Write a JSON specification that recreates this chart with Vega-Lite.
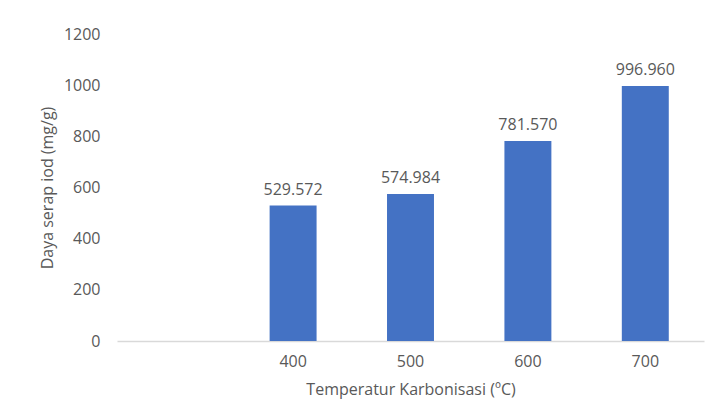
{
  "$schema": "https://vega.github.io/schema/vega-lite/v6.json",
  "autosize": {"type": "none"},
  "padding": {"left": 117, "top": 34, "right": 9, "bottom": 78},
  "width": 587,
  "height": 307,
  "background": "white",
  "config": {
    "view": {"stroke": null},
    "font": "Open Sans",
    "axis": {"labelFont": "Open Sans", "titleFont": "Open Sans", "labelColor": "#595959", "titleColor": "#595959", "labelFontSize": 16, "titleFontSize": 16, "titleFontWeight": "normal"}
  },
  "data": {
    "values": [
      {"Suhu": "400", "Daya": 529.572},
      {"Suhu": "500", "Daya": 574.984},
      {"Suhu": "600", "Daya": 781.570},
      {"Suhu": "700", "Daya": 996.960}
    ]
  },
  "encoding": {
    "x": {
      "field": "Suhu", "type": "nominal",
      "scale": {"domain": [" ", "400", "500", "600", "700"], "paddingInner": 0.6, "paddingOuter": 0.3},
      "axis": {"title": "Temperatur Karbonisasi (ºC)", "labelAngle": 0, "ticks": false, "domainColor": "#D9D9D9", "domainWidth": 1.5, "labelPadding": 12, "titleY": 40, "titleBaseline": "top"}
    },
    "y": {
      "field": "Daya", "type": "quantitative",
      "scale": {"domain": [0, 1200]},
      "axis": {"title": "Daya serap iod (mg/g)", "format": "d", "values": [0, 200, 400, 600, 800, 1000, 1200], "grid": false, "domain": false, "ticks": false, "labelPadding": 17, "titleX": -62, "titleY": 153.5}
    }
  },
  "layer": [
    {"mark": {"type": "bar", "color": "#4472C4"}},
    {
      "mark": {"type": "text", "baseline": "alphabetic", "dy": -11, "fontSize": 16, "color": "#595959", "font": "Open Sans"},
      "encoding": {"text": {"field": "Daya", "type": "quantitative", "format": ".3f"}}
    }
  ]
}
